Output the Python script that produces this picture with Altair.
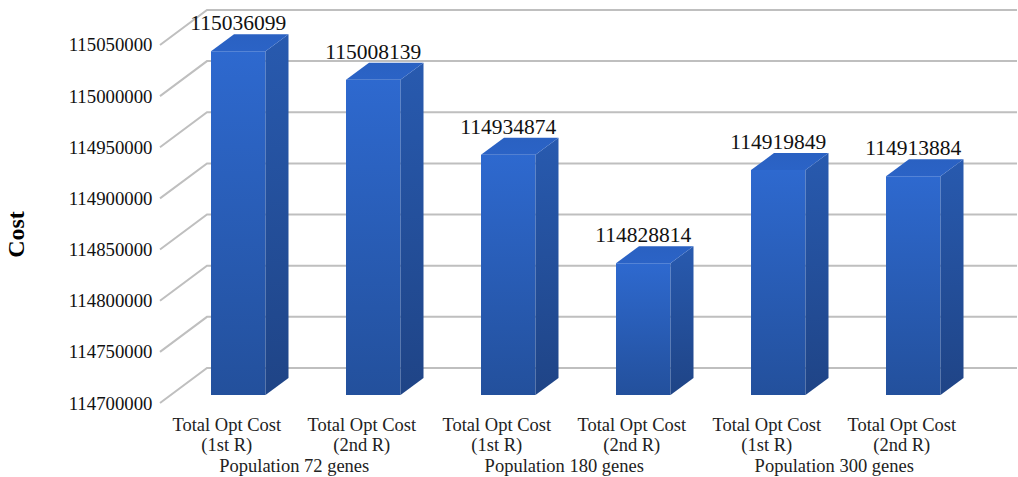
import altair as alt
import pandas as pd

# Values printed above each bar
runs = ["Total Opt Cost", "Total Opt Cost", "Total Opt Cost", "Total Opt Cost", "Total Opt Cost", "Total Opt Cost"]
run_ids = ["(1st R)", "(2nd R)", "(1st R)", "(2nd R)", "(1st R)", "(2nd R)"]
costs = [115036099, 115008139, 114934874, 114828814, 114919849, 114913884]
groups = ["Population 72 genes", "Population 180 genes", "Population 300 genes"]
tick_values = [114700000, 114750000, 114800000, 114850000, 114900000, 114950000, 115000000, 115050000]

FONT = "Liberation Serif"
BASE = 114700000

# Oblique projection, in data units: one x unit is a category slot, y is cost
PX_Y = 0.001023            # pixels per unit of cost
PX_X = 135.0               # pixels per category slot
BAR_W = 54.5 / PX_X
BAR_DX = 23.0 / PX_X
BAR_DY = 17.0 / PX_Y
WALL_LEFT = -51.0 / PX_X
WALL_BACK = -4.0 / PX_X
WALL_FRONT_DY = -8.0 / PX_Y
WALL_BACK_DY = 27.0 / PX_Y
LABEL_SHIFT = -11.5 / PX_X

x_scale = alt.Scale(domain=[-56.0 / PX_X, 807.0 / PX_X], nice=False, zero=False)
y_scale = alt.Scale(domain=[BASE - 82.0 / PX_Y, BASE + 395.0 / PX_Y], nice=False, zero=False)

# Every layer shares this axis so the merged chart keeps it
y_axis = alt.Axis(
    values=tick_values, format="d", labelOffset=8, labelPadding=3,
    domain=False, ticks=False, grid=False, labelOverlap=False, labelFlush=False,
    labelFont=FONT, labelFontSize=18.8, labelColor="#111111",
    title="Cost", titleFont=FONT, titleFontSize=24, titleFontWeight="bold",
    titleColor="#000000", titleX=-139, titleY=234, titleAngle=270,
    titleAlign="center", titleBaseline="middle",
)


def vgrad(top, bottom):
    return alt.Gradient(
        gradient="linear", x1=0, x2=0, y1=0, y2=1,
        stops=[alt.GradientStop(color=top, offset=0), alt.GradientStop(color=bottom, offset=1)],
    )


# Floor and back wall gridlines: a slanted run from the axis, then along the wall
grid_rows = []
for t in tick_values:
    grid_rows += [
        {"tick": t, "order": 0, "x": WALL_LEFT, "y": t + WALL_FRONT_DY},
        {"tick": t, "order": 1, "x": WALL_BACK, "y": t + WALL_BACK_DY},
        {"tick": t, "order": 2, "x": 806.0 / PX_X, "y": t + WALL_BACK_DY},
    ]
grid = (
    alt.Chart(pd.DataFrame(grid_rows))
    .mark_line(color="#BFBFBF", strokeWidth=2)
    .encode(
        x=alt.X("x:Q", scale=x_scale, axis=None),
        y=alt.Y("y:Q", scale=y_scale, axis=y_axis),
        detail="tick:N",
        order="order:Q",
    )
)

# The three visible faces of every bar
front_rows, side_rows, top_rows = [], [], []
for i, v in enumerate(costs):
    x0, x1 = i, i + BAR_W
    front_rows.append({"x0": x0, "x1": x1, "v": v, "base": BASE})
    side_rows += [
        {"bar": i, "x": x1, "y": v, "y2": BASE},
        {"bar": i, "x": x1 + BAR_DX, "y": v + BAR_DY, "y2": BASE + BAR_DY},
    ]
    top_rows += [
        {"bar": i, "x": x0, "y": v, "y2": v},
        {"bar": i, "x": x0 + BAR_DX, "y": v + BAR_DY, "y2": v},
        {"bar": i, "x": x1, "y": v + BAR_DY, "y2": v},
        {"bar": i, "x": x1 + BAR_DX, "y": v + BAR_DY, "y2": v + BAR_DY},
    ]

front = (
    alt.Chart(pd.DataFrame(front_rows))
    .mark_rect(color=vgrad("#2E69CF", "#23509C"))
    .encode(
        x=alt.X("x0:Q", scale=x_scale, axis=None),
        x2="x1:Q",
        y=alt.Y("v:Q", scale=y_scale, axis=y_axis),
        y2="base:Q",
    )
)


def face(rows, fill):
    return (
        alt.Chart(pd.DataFrame(rows))
        .mark_area(color=fill, orient="vertical")
        .encode(
            x=alt.X("x:Q", scale=x_scale, axis=None),
            y=alt.Y("y:Q", scale=y_scale, axis=y_axis, stack=None),
            y2="y2:Q",
            detail="bar:N",
        )
    )


side = face(side_rows, vgrad("#285AAF", "#1F4486"))
top = face(top_rows, vgrad("#2A61C2", "#2B63C6"))

value_labels = (
    alt.Chart(pd.DataFrame({
        "x": [i + BAR_W / 2 for i in range(len(costs))],
        "v": costs,
    }))
    .mark_text(font=FONT, fontSize=21.5, color="#111111", align="center", baseline="alphabetic", dy=-21)
    .encode(
        x=alt.X("x:Q", scale=x_scale, axis=None),
        y=alt.Y("v:Q", scale=y_scale, axis=y_axis),
        text=alt.Text("v:Q", format="d"),
    )
)

# Category captions sit below the floor, expressed as cost levels on the same scale
LINE1 = BASE - 30.0 / PX_Y
LINE2 = BASE - 50.0 / PX_Y
LINE3 = BASE - 71.0 / PX_Y
caption_rows = []
for i, (a, b) in enumerate(zip(runs, run_ids)):
    cx = i + BAR_W / 2 + LABEL_SHIFT
    caption_rows.append({"x": cx, "y": LINE1, "t": a})
    caption_rows.append({"x": cx, "y": LINE2, "t": b})
for j, g in enumerate(groups):
    caption_rows.append({"x": 2 * j + 0.5 + BAR_W / 2 + LABEL_SHIFT, "y": LINE3, "t": g})

captions = (
    alt.Chart(pd.DataFrame(caption_rows))
    .mark_text(font=FONT, fontSize=18.5, color="#222222", align="center", baseline="middle")
    .encode(
        x=alt.X("x:Q", scale=x_scale, axis=None),
        y=alt.Y("y:Q", scale=y_scale, axis=y_axis),
        text="t:N",
    )
)

chart = (
    alt.layer(grid, front, side, top, value_labels, captions)
    .properties(
        width=863,
        height=477,
        autosize=alt.AutoSizeParams(type="none"),
        padding={"left": 155, "top": 0, "right": 0, "bottom": 0},
        background="white",
    )
    .configure_view(stroke=None)
)

chart.save("out.html", embed_options={"renderer": "svg", "actions": False})
